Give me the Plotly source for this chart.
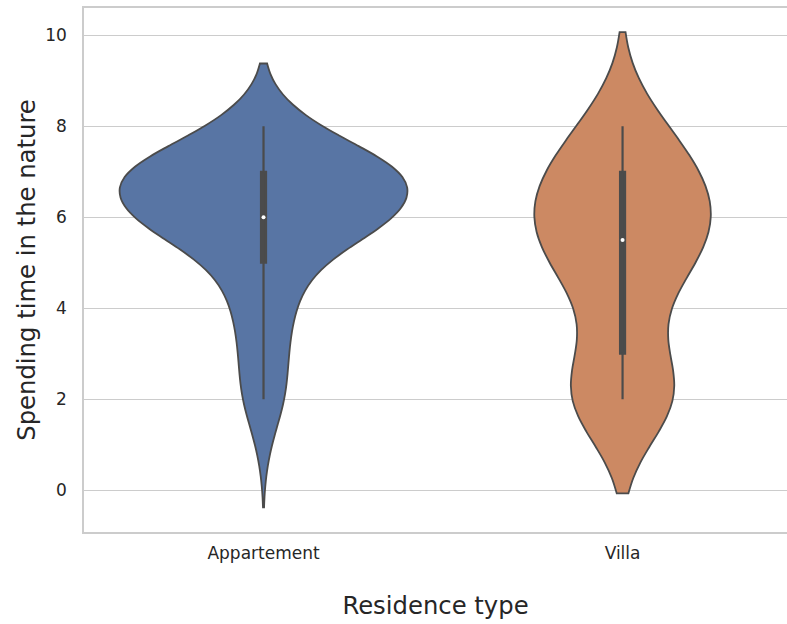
import numpy as np
import plotly.graph_objects as go

# Survey answers: time spent in nature (0-10 scale), by residence type
CATEGORIES = ["Appartement", "Villa"]
SCORE_LEVELS = [1, 2, 3, 4, 5, 6, 7, 8]
APPARTEMENT_RESPONSES = [1, 4, 4, 5, 8, 24, 27, 7]
VILLA_RESPONSES = [0, 9, 2, 2, 7, 9, 7, 4]

# Kernel bandwidth used for each violin's density estimate
KDE_BANDWIDTH = [0.69, 1.035]

FILL_COLORS = ["#5875A4", "#CC8963"]
EDGE_GRAY = "#4b4b4b"
TEXT_COLOR = "#262626"
GRID_COLOR = "#cccccc"
FONT = "DejaVu Sans"
MAX_VIOLIN_WIDTH = 0.8
PX_PER_CATEGORY = 359.0

samples = [
    np.repeat(SCORE_LEVELS, APPARTEMENT_RESPONSES).astype(float),
    np.repeat(SCORE_LEVELS, VILLA_RESPONSES).astype(float),
]


def peak_density(values, bw):
    grid = np.linspace(values.min() - 2 * bw, values.max() + 2 * bw, 600)
    z = (grid[:, None] - values[None, :]) / bw
    dens = np.exp(-0.5 * z ** 2).sum(axis=1) / (len(values) * bw * np.sqrt(2 * np.pi))
    return dens.max()


# "area" scaling: the violin with the tallest density peak gets the full width
peaks = [peak_density(v, bw) for v, bw in zip(samples, KDE_BANDWIDTH)]
widths = [MAX_VIOLIN_WIDTH * p / max(peaks) for p in peaks]

fig = go.Figure()
for cat, vals, bw, w, color in zip(CATEGORIES, samples, KDE_BANDWIDTH, widths, FILL_COLORS):
    full_px = w * PX_PER_CATEGORY
    fig.add_trace(go.Violin(
        x=[cat] * len(vals),
        y=vals,
        name=cat,
        bandwidth=bw,
        spanmode="soft",
        scalemode="width",
        width=w,
        points=False,
        fillcolor=color,
        opacity=1,
        line=dict(color=EDGE_GRAY, width=1.8),
        box=dict(visible=True, width=5.0 / full_px, fillcolor=EDGE_GRAY,
                 line=dict(color=EDGE_GRAY, width=2.2)),
        meanline=dict(visible=False),
        showlegend=False,
        hoverinfo="skip",
    ))

# white dot at each median
fig.add_trace(go.Scatter(
    x=CATEGORIES,
    y=[float(np.median(v)) for v in samples],
    mode="markers",
    marker=dict(color="white", size=4, line=dict(width=0)),
    showlegend=False,
    hoverinfo="skip",
))

fig.update_layout(
    width=787,
    height=624,
    margin=dict(l=84, r=0, t=8, b=92),
    plot_bgcolor="white",
    paper_bgcolor="white",
    violinmode="overlay",
    font=dict(family=FONT, color=TEXT_COLOR),
    xaxis=dict(
        type="category",
        categoryorder="array",
        categoryarray=CATEGORIES,
        range=[-0.5, 1.458],
        showgrid=False,
        zeroline=False,
        showline=True,
        linecolor=GRID_COLOR,
        linewidth=1.5,
        mirror=True,
        ticks="",
        ticklabelstandoff=5,
        tickfont=dict(family=FONT, size=17, color=TEXT_COLOR),
        title=dict(text="Residence type", font=dict(family=FONT, size=24.3, color=TEXT_COLOR), standoff=35),
    ),
    yaxis=dict(
        range=[-0.92, 10.6],
        tick0=0,
        dtick=2,
        showgrid=True,
        gridcolor=GRID_COLOR,
        gridwidth=1.3,
        zeroline=False,
        showline=True,
        linecolor=GRID_COLOR,
        linewidth=1.5,
        mirror=False,
        ticks="",
        ticklabelstandoff=12,
        tickfont=dict(family=FONT, size=17, color=TEXT_COLOR),
        title=dict(text="Spending time in the nature", font=dict(family=FONT, size=24.3, color=TEXT_COLOR), standoff=3),
    ),
)

fig.write_html("out.html")
